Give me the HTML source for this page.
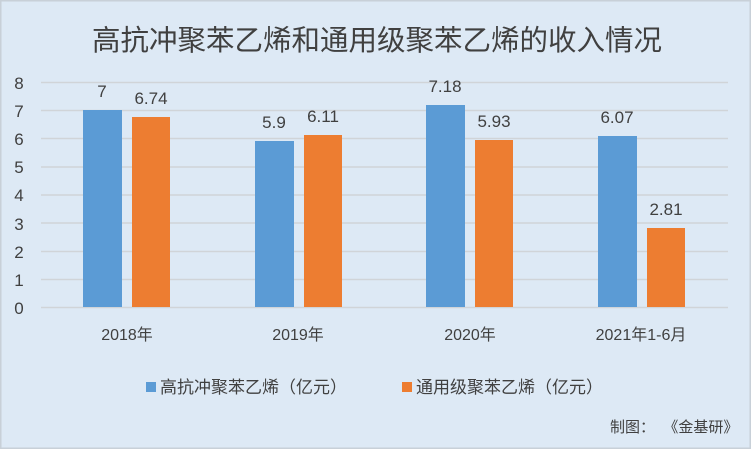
<!DOCTYPE html>
<html><head><meta charset="utf-8"><style>
body{margin:0;width:751px;height:449px;overflow:hidden;background:#fff}
svg{display:block}
text{font-family:"Liberation Sans","Noto Sans CJK SC",sans-serif;fill:#404040}
</style></head><body>
<svg width="751" height="449" xmlns="http://www.w3.org/2000/svg">
<rect x="0" y="0" width="751" height="449" fill="#dde9f5"/>
<rect x="0.5" y="0.5" width="750" height="448" fill="none" stroke="#c8d0d8" stroke-width="2"/>
<text x="377" y="50" font-size="28.5" text-anchor="middle" fill="#505050">高抗冲聚苯乙烯和通用级聚苯乙烯的收入情况</text>
<g stroke="#d0d4d8" stroke-width="1.5">
<line x1="41" x2="728" y1="82.5" y2="82.5"/><line x1="41" x2="728" y1="110.5" y2="110.5"/>
<line x1="41" x2="728" y1="138.5" y2="138.5"/><line x1="41" x2="728" y1="167" y2="167"/>
<line x1="41" x2="728" y1="195" y2="195"/><line x1="41" x2="728" y1="223" y2="223"/>
<line x1="41" x2="728" y1="251.5" y2="251.5"/><line x1="41" x2="728" y1="279.5" y2="279.5"/>
<line x1="41" x2="728" y1="307.5" y2="307.5"/>
</g>
<g font-size="17" text-anchor="middle">
<text x="19" y="89">8</text><text x="19" y="117">7</text><text x="19" y="145">6</text><text x="19" y="173">5</text>
<text x="19" y="201">4</text><text x="19" y="230">3</text><text x="19" y="258">2</text><text x="19" y="286">1</text><text x="19" y="314">0</text>
</g>
<g fill="#5b9bd5">
<rect x="83" y="110" width="39" height="197"/>
<rect x="255" y="141" width="39" height="166"/>
<rect x="426" y="105" width="39" height="202"/>
<rect x="598" y="136" width="39" height="171"/>
</g>
<g fill="#ed7d31">
<rect x="132" y="117" width="38" height="190"/>
<rect x="304" y="135" width="38" height="172"/>
<rect x="475" y="140" width="38" height="167"/>
<rect x="647" y="228" width="38" height="79"/>
</g>
<g font-size="17" text-anchor="middle">
<text x="102" y="97">7</text><text x="151" y="104">6.74</text>
<text x="274" y="128">5.9</text><text x="323" y="122">6.11</text>
<text x="445" y="92">7.18</text><text x="494" y="127">5.93</text>
<text x="617" y="123">6.07</text><text x="666" y="215">2.81</text>
</g>
<g font-size="16" text-anchor="middle">
<text x="127" y="340">2018年</text><text x="298" y="340">2019年</text>
<text x="470" y="340">2020年</text><text x="641" y="340">2021年1-6月</text>
</g>
<rect x="146" y="382" width="10" height="10" fill="#5b9bd5"/>
<text x="160" y="393" font-size="17">高抗冲聚苯乙烯（亿元）</text>
<rect x="402" y="382" width="10" height="10" fill="#ed7d31"/>
<text x="416" y="393" font-size="17">通用级聚苯乙烯（亿元）</text>
<text x="610" y="432" font-size="15" fill="#595959">制图：&#160;&#160;《金基研》</text>
</svg>
</body></html>
